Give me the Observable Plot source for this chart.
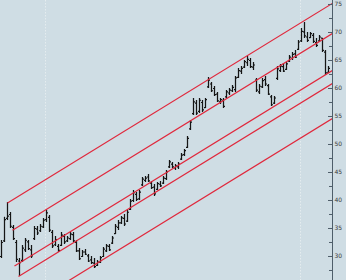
<!DOCTYPE html>
<html>
<head>
<meta charset="utf-8">
<script src="https://cdn.jsdelivr.net/npm/d3@7"></script>
<script src="https://cdn.jsdelivr.net/npm/@observablehq/plot@0.6"></script>
<style>
  html, body { margin: 0; padding: 0; background: #cfdde4; }
  #chart svg { display: block; }
</style>
</head>
<body>
<div id="chart"></div>
<script>
// Daily OHLC bars (index = trading session)
const highs = [
  32.86, 37.0, 39.64, 37.86, 35.54, 32.86, 29.64, 31.96, 33.21, 32.86,
  31.96, 35.36, 35.36, 35.71, 36.79, 38.21, 37.32, 34.64, 33.57, 32.14,
  34.29, 33.93, 33.57, 34.29, 34.29, 32.86, 31.43, 31.07, 31.25, 30.36,
  30.0, 29.64, 29.29, 30.0, 31.61, 32.14, 32.14, 33.57, 35.71, 36.43,
  37.14, 37.5, 38.21, 40.18, 41.79, 41.43, 41.79, 44.11, 44.29, 44.64,
  43.39, 42.86, 43.21, 43.39, 44.29, 45.36, 47.14, 46.79, 46.43, 46.79,
  48.39, 49.11, 51.43, 54.29, 58.21, 57.86, 58.21, 57.86, 58.21, 61.96,
  61.07, 60.36, 59.29, 58.21, 58.21, 59.64, 60.0, 60.54, 62.14, 63.57,
  63.93, 65.0, 65.71, 65.36, 64.64, 61.79, 60.71, 61.79, 62.14, 60.71,
  58.75, 58.57, 63.93, 64.29, 64.46, 64.64, 65.89, 66.43, 66.79, 68.57,
  70.71, 71.79, 70.0, 70.0, 69.82, 68.93, 69.46, 68.93, 66.79, 63.93
];
const lows = [
  29.64, 32.5, 36.43, 35.0, 32.86, 28.93, 26.43, 28.93, 30.71, 31.07,
  29.64, 32.86, 33.75, 34.29, 35.0, 36.07, 34.29, 31.43, 31.79, 30.71,
  31.79, 32.14, 32.5, 32.86, 32.5, 30.71, 29.29, 29.82, 30.18, 28.93,
  28.57, 27.86, 28.21, 28.75, 29.82, 30.71, 30.89, 32.14, 33.93, 34.64,
  35.71, 35.36, 36.07, 38.21, 39.64, 39.82, 40.0, 42.5, 43.21, 43.21,
  41.96, 40.71, 41.79, 42.32, 42.86, 43.57, 45.71, 45.71, 45.36, 45.54,
  47.14, 47.86, 49.29, 52.5, 55.18, 55.18, 55.54, 55.71, 56.43, 60.0,
  59.29, 58.57, 57.5, 57.14, 56.43, 58.21, 58.75, 59.29, 59.29, 61.79,
  62.5, 63.57, 63.93, 63.57, 63.21, 59.29, 58.93, 60.0, 60.36, 58.75,
  56.79, 57.14, 61.43, 62.86, 62.86, 63.21, 64.64, 65.0, 65.36, 66.79,
  68.21, 68.93, 68.21, 68.93, 68.04, 67.32, 68.21, 66.43, 62.32, 62.68
];
const opens = [
  30.0, 32.8, 36.8, 37.5, 35.2, 32.5, 29.2, 29.3, 31.2, 32.6,
  31.2, 33.2, 34.9, 34.6, 35.3, 36.6, 37.0, 34.3, 32.1, 31.8,
  32.0, 33.6, 32.8, 33.2, 33.9, 32.5, 31.0, 30.0, 30.8, 30.1,
  29.4, 28.8, 28.4, 29.0, 30.0, 31.0, 31.8, 32.4, 34.1, 35.2,
  36.0, 36.8, 36.3, 38.4, 40.0, 41.1, 40.3, 42.8, 43.6, 44.2,
  43.1, 42.4, 42.0, 42.9, 43.1, 43.9, 46.0, 46.5, 45.8, 46.0,
  47.4, 48.2, 49.5, 52.8, 55.5, 57.4, 55.9, 57.5, 56.6, 60.3,
  60.8, 60.0, 59.0, 57.6, 57.9, 58.5, 59.2, 59.6, 59.8, 62.0,
  63.1, 63.8, 64.6, 65.0, 63.8, 61.5, 59.4, 60.3, 61.6, 60.5,
  58.5, 57.4, 61.8, 63.2, 63.9, 63.4, 64.9, 65.4, 66.2, 67.0,
  68.5, 70.1, 69.2, 69.1, 69.5, 68.2, 68.5, 69.0, 66.5, 62.9
];
const closes = [
  32.5, 36.6, 37.2, 35.4, 33.2, 29.5, 28.9, 31.5, 32.9, 31.4,
  30.1, 35.0, 34.2, 35.4, 36.5, 37.8, 34.7, 31.9, 33.0, 31.1,
  33.8, 32.6, 33.3, 34.0, 32.8, 31.0, 29.6, 30.8, 30.4, 29.2,
  28.9, 28.2, 29.0, 29.8, 31.3, 31.9, 31.2, 33.3, 35.4, 36.0,
  36.9, 35.8, 37.9, 39.9, 41.4, 40.2, 41.5, 43.8, 44.0, 43.5,
  42.3, 41.2, 43.0, 42.6, 44.0, 45.1, 46.9, 46.0, 46.2, 46.5,
  48.1, 48.9, 51.1, 54.0, 57.6, 55.6, 57.9, 56.2, 58.0, 61.5,
  59.6, 58.9, 57.8, 58.0, 56.8, 59.4, 59.7, 60.2, 61.9, 63.2,
  63.6, 64.8, 65.2, 63.9, 64.2, 59.7, 60.4, 61.4, 60.8, 59.0,
  57.1, 58.3, 63.5, 64.0, 63.1, 64.4, 65.6, 66.1, 65.6, 68.3,
  70.2, 69.4, 68.6, 69.8, 68.4, 67.7, 69.2, 66.8, 62.8, 63.6
];

// Parallel trend channel: start session, start price, end session, end price
const channelStartX = [2, 3.67, 4.33, 5.67, -0.33];
const channelStartY = [39.54, 34.68, 28.29, 26.41, 18.2];
const channelEndX   = [110.33, 110.33, 110.33, 110.33, 110.33];
const channelEndY   = [75.21, 69.82, 63.21, 60.89, 54.64];

// Session boundaries marked with dotted verticals
const gridSessions = [14.67, 99.67];

// Price axis
const yTicks = [30, 35, 40, 45, 50, 55, 60, 65, 70, 75];
const yMinorTicks = [27.5, 32.5, 37.5, 42.5, 47.5, 52.5, 57.5, 62.5, 67.5, 72.5];

const bars = highs.map((h, i) => ({i, high: h, low: lows[i], open: opens[i], close: closes[i]}));
const channels = channelStartX.map((x, k) => ({
  x1: x, y1: channelStartY[k], x2: channelEndX[k], y2: channelEndY[k]
}));

const axisColor = "#4e5e6a";
const red = "#e0283c";
const barColor = "#151515";

const chart = Plot.plot({
  width: 346,
  height: 280,
  marginLeft: 0,
  marginRight: 14,
  marginTop: 0,
  marginBottom: 0,
  style: {background: "#cfdde4", overflow: "visible"},
  x: {domain: [-1 / 3, 110 + 1 / 3], axis: null},
  y: {domain: [25.714, 75.714], axis: null},
  marks: [
    Plot.ruleX(gridSessions, {stroke: "#e6edf0", strokeOpacity: 0.9, strokeDasharray: "1.5,1.5"}),
    Plot.ruleX(bars, {x: "i", y1: "low", y2: "high", stroke: barColor, strokeWidth: 1.25}),
    Plot.link(bars, {x1: d => d.i - 0.5, x2: "i", y1: "open", y2: "open", stroke: barColor, strokeWidth: 1.2}),
    Plot.link(bars, {x1: "i", x2: d => d.i + 0.5, y1: "close", y2: "close", stroke: barColor, strokeWidth: 1.2}),
    Plot.link(channels, {x1: "x1", y1: "y1", x2: "x2", y2: "y2", stroke: red, strokeWidth: 1.2, clip: true}),
    Plot.frame({anchor: "right", stroke: axisColor}),
    Plot.ruleY(yTicks, {insetLeft: 328, insetRight: -1, stroke: axisColor}),
    Plot.ruleY(yMinorTicks, {insetLeft: 329, stroke: axisColor}),
    Plot.text(yTicks, {
      y: d => d, frameAnchor: "right", dx: 2, textAnchor: "start",
      text: d => String(d), fontSize: 6, fill: "#3a3a3a", fontFamily: "DejaVu Sans"
    })
  ]
});

document.getElementById("chart").append(chart);
</script>
</body>
</html>
